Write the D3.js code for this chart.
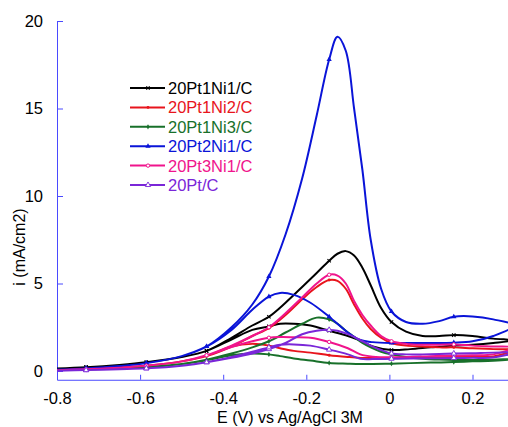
<!DOCTYPE html>
<html>
<head>
<meta charset="utf-8">
<script src="https://cdn.jsdelivr.net/npm/d3@7"></script>
<style>
  body { margin: 0; background: #fff; }
  svg { display: block; font-family: "Liberation Sans", Arial, sans-serif; }
</style>
</head>
<body>
<svg id="chart" width="508" height="427"></svg>
<script>
// potentials (V vs Ag/AgCl) for the forward and the reverse scan
const fwdE = [-0.8, -0.73, -0.65, -0.585, -0.5, -0.44, -0.38, -0.33, -0.29, -0.25, -0.21, -0.175, -0.145,
  -0.125, -0.105, -0.085, -0.065, -0.045, -0.02, 0.005, 0.04, 0.08, 0.12, 0.155, 0.2, 0.25, 0.3];
const revE = [0.3, 0.25, 0.2, 0.155, 0.1, 0.05, 0.005, -0.04, -0.07, -0.1, -0.145, -0.19, -0.23, -0.263,
  -0.29, -0.33, -0.38, -0.44, -0.5, -0.585, -0.65, -0.73, -0.8];
const markE = [-0.73, -0.585, -0.44, -0.29, -0.145, 0.005, 0.155];

const names = ["20Pt1Ni1/C", "20Pt1Ni2/C", "20Pt1Ni3/C", "20Pt2Ni1/C", "20Pt3Ni1/C", "20Pt/C"];
const colors = ["#000000", "#e8141c", "#18702a", "#0a14d8", "#f0148c", "#7a26d8"];

// current density (mA/cm2), forward scan
const fwdPt1Ni1 = [0.15, 0.22, 0.35, 0.5, 0.8, 1.15, 1.9, 2.6, 3.1, 3.9, 4.8, 5.6, 6.3, 6.7, 6.85, 6.6, 5.9, 4.9, 3.6, 2.8, 2.25, 2.0, 2.0, 2.05, 2.0, 1.85, 1.75];
const fwdPt1Ni2 = [0.05, 0.1, 0.2, 0.3, 0.55, 0.85, 1.4, 2.0, 2.45, 3.2, 4.1, 4.8, 5.2, 5.15, 4.7, 3.8, 3.0, 2.4, 1.9, 1.6, 1.45, 1.4, 1.35, 1.35, 1.3, 1.25, 1.2];
const fwdPt1Ni3 = [0.05, 0.08, 0.15, 0.22, 0.4, 0.65, 1.0, 1.35, 1.7, 2.2, 2.7, 3.05, 2.95, 2.7, 2.3, 1.95, 1.6, 1.35, 1.1, 0.95, 0.8, 0.7, 0.65, 0.63, 0.63, 0.65, 0.68];
const fwdPt2Ni1 = [0.08, 0.15, 0.28, 0.45, 0.85, 1.4, 2.5, 3.8, 5.4, 7.8, 11.0, 14.6, 17.8, 19.1, 18.3, 15.0, 11.5, 7.5, 4.7, 3.4, 2.8, 2.7, 2.85, 3.1, 3.12, 2.95, 2.6];
const fwdPt3Ni1 = [0.05, 0.1, 0.18, 0.3, 0.55, 0.9, 1.45, 2.0, 2.5, 3.3, 4.2, 5.0, 5.5, 5.45, 5.0, 4.0, 3.2, 2.6, 2.0, 1.7, 1.55, 1.5, 1.5, 1.52, 1.45, 1.4, 1.35];
const fwdPt = [0.02, 0.05, 0.1, 0.15, 0.3, 0.5, 0.75, 1.0, 1.25, 1.6, 2.1, 2.3, 2.35, 2.3, 2.15, 1.95, 1.7, 1.45, 1.2, 1.0, 0.95, 0.95, 0.97, 1.0, 1.02, 1.05, 1.05];

// current density (mA/cm2), reverse scan
const revPt1Ni1 = [1.75, 1.6, 1.5, 1.45, 1.35, 1.25, 1.2, 1.4, 1.75, 2.0, 2.3, 2.6, 2.7, 2.7, 2.55, 2.35, 1.8, 1.15, 0.8, 0.5, 0.35, 0.22, 0.15];
const revPt1Ni2 = [0.85, 0.83, 0.82, 0.8, 0.77, 0.75, 0.74, 0.74, 0.75, 0.8, 0.9, 1.05, 1.15, 1.3, 1.45, 1.55, 1.4, 0.85, 0.55, 0.3, 0.2, 0.1, 0.05];
const revPt1Ni3 = [0.6, 0.58, 0.55, 0.51, 0.48, 0.45, 0.42, 0.4, 0.4, 0.42, 0.46, 0.6, 0.72, 0.85, 0.95, 1.0, 0.9, 0.62, 0.4, 0.22, 0.15, 0.08, 0.05];
const revPt2Ni1 = [2.3, 2.0, 1.7, 1.62, 1.6, 1.6, 1.6, 1.65, 1.77, 2.2, 3.1, 3.9, 4.35, 4.46, 4.25, 3.5, 2.35, 1.4, 0.85, 0.45, 0.28, 0.15, 0.08];
const revPt3Ni1 = [1.0, 0.95, 0.9, 0.88, 0.85, 0.8, 0.78, 0.82, 0.95, 1.3, 1.66, 1.9, 1.93, 1.94, 1.9, 1.7, 1.37, 0.9, 0.55, 0.3, 0.18, 0.1, 0.05];
const revPt = [0.78, 0.77, 0.75, 0.74, 0.73, 0.72, 0.7, 0.68, 0.7, 0.95, 1.22, 1.45, 1.52, 1.5, 1.35, 1.1, 0.8, 0.5, 0.3, 0.15, 0.1, 0.05, 0.02];

const fwdAll = [fwdPt1Ni1, fwdPt1Ni2, fwdPt1Ni3, fwdPt2Ni1, fwdPt3Ni1, fwdPt];
const revAll = [revPt1Ni1, revPt1Ni2, revPt1Ni3, revPt2Ni1, revPt3Ni1, revPt];
const markers = ["x", "dot", "diamond", "triangle", "circle", "opentriangle"];

const series = names.map((name, k) => ({
  name, color: colors[k], marker: markers[k],
  fwd: fwdE.map((e, i) => ({ e, v: fwdAll[k][i] })),
  rev: revE.map((e, i) => ({ e, v: revAll[k][i] }))
}));

const svg = d3.select("#chart");
const axisColor = "#4a4aff";

const x = d3.scaleLinear().domain([-0.8, 0.3]).range([57, 514.05]);
const y = d3.scaleLinear().domain([-0.5, 20]).range([379.75, 21]);

// axes
const xAxis = svg.append("g")
  .attr("transform", `translate(0,${y(-0.5)})`)
  .call(d3.axisBottom(x)
    .tickValues([-0.8, -0.6, -0.4, -0.2, 0, 0.2])
    .tickFormat(d => d === 0 ? "0" : d.toFixed(1))
    .tickSize(-5).tickSizeOuter(0).tickPadding(13));

const yAxis = svg.append("g")
  .attr("transform", `translate(${x(-0.8)},0)`)
  .call(d3.axisLeft(y)
    .tickValues([0, 5, 10, 15, 20])
    .tickSize(-6).tickSizeOuter(0).tickPadding(14));

[xAxis, yAxis].forEach(g => {
  g.select(".domain").attr("stroke", axisColor);
  g.selectAll(".tick line").attr("stroke", axisColor);
  g.selectAll(".tick text").attr("fill", "#000").style("font-size", "16.5px")
    .style("font-family", '"Liberation Sans", Arial, sans-serif');
});

svg.append("text")
  .attr("x", 290).attr("y", 423)
  .attr("text-anchor", "middle")
  .style("font-size", "16px")
  .text("E (V) vs Ag/AgCl 3M");

svg.append("text")
  .attr("transform", "translate(25,247) rotate(-90)")
  .attr("text-anchor", "middle")
  .style("font-size", "16px")
  .text("i (mA/cm2)");

// curves
const line = d3.line()
  .x(d => x(d.e)).y(d => y(d.v))
  .curve(d3.curveCatmullRom.alpha(0.5));

function drawMarker(g, type, color, cx, cy) {
  if (type === "x") {
    g.append("path")
      .attr("d", d3.symbol(d3.symbolX, 9)())
      .attr("transform", `translate(${cx},${cy})`)
      .attr("stroke", color).attr("stroke-width", 1.1).attr("fill", "none");
  } else if (type === "dot") {
    g.append("circle").attr("cx", cx).attr("cy", cy).attr("r", 1.4).attr("fill", color);
  } else if (type === "diamond") {
    g.append("path").attr("d", d3.symbol(d3.symbolDiamond, 8)())
      .attr("transform", `translate(${cx},${cy})`).attr("fill", color);
  } else if (type === "triangle") {
    g.append("path").attr("d", d3.symbol(d3.symbolTriangle, 12)())
      .attr("transform", `translate(${cx},${cy})`).attr("fill", color);
  } else if (type === "circle") {
    g.append("circle").attr("cx", cx).attr("cy", cy).attr("r", 1.7)
      .attr("fill", "#fff").attr("stroke", color).attr("stroke-width", 1);
  } else {
    g.append("path").attr("d", d3.symbol(d3.symbolTriangle, 12)())
      .attr("transform", `translate(${cx},${cy})`)
      .attr("fill", "#fff").attr("stroke", color).attr("stroke-width", 0.9);
  }
}

const plot = svg.append("g");
series.forEach(s => {
  const g = plot.append("g");
  g.append("path")
    .attr("d", line(s.fwd.concat(s.rev.slice(1))))
    .attr("fill", "none")
    .attr("stroke", s.color)
    .attr("stroke-width", 2)
    .attr("stroke-linejoin", "round");
  s.fwd.concat(s.rev)
    .filter(d => markE.includes(d.e))
    .forEach(d => drawMarker(g, s.marker, s.color, x(d.e), y(d.v)));
});

// legend
const legend = svg.append("g");
series.forEach((s, i) => {
  const ly = 88 + i * 19.4;
  legend.append("line")
    .attr("x1", 130).attr("x2", 165).attr("y1", ly).attr("y2", ly)
    .attr("stroke", s.color).attr("stroke-width", 2);
  drawMarker(legend, s.marker, s.color, 148, ly);
  legend.append("text")
    .attr("x", 168).attr("y", ly).attr("dy", "0.36em")
    .attr("fill", s.color)
    .style("font-size", "16.5px")
    .text(s.name);
});
</script>
</body>
</html>
